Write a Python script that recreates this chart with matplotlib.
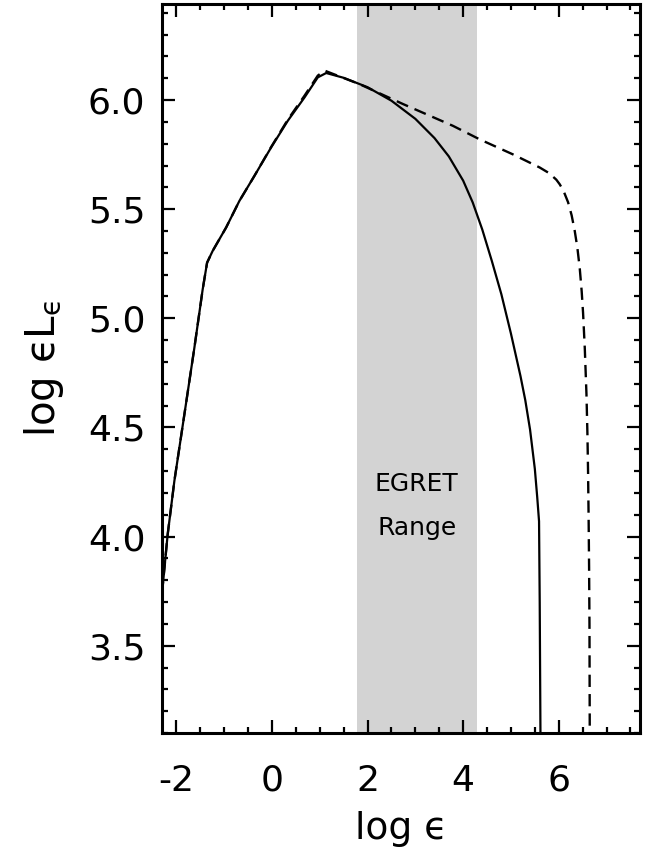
import matplotlib
matplotlib.use('Agg')
import matplotlib.pyplot as plt
from matplotlib.ticker import MultipleLocator

# 曲线数据
solid_x = [-2.35, -2.287, -2.182, -2.042, -1.832, -1.623, -1.449, -1.357, -1.240, -0.959,
           -0.681, -0.366, -0.017, 0.331, 0.681, 0.959, 1.135, 1.5, 2.0, 2.5,
           3.0, 3.4, 3.7, 4.0, 4.2, 4.4, 4.6, 4.8, 5.0, 5.2,
           5.3, 5.4, 5.5, 5.55, 5.588, 5.602, 5.62]
solid_y = [3.56, 3.77, 4.009, 4.254, 4.560, 4.865, 5.133, 5.255, 5.309, 5.416,
           5.538, 5.653, 5.783, 5.905, 6.012, 6.104, 6.124, 6.102, 6.059, 5.997,
           5.914, 5.826, 5.742, 5.631, 5.531, 5.407, 5.263, 5.11, 4.93, 4.735,
           4.625, 4.49, 4.31, 4.18, 4.07, 3.70, 3.0]

dash_x = [-2.35, -2.287, -2.182, -2.042, -1.832, -1.623, -1.449, -1.357, -1.240, -0.959,
          -0.681, -0.366, -0.017, 0.331, 0.681, 0.959, 1.10, 1.832, 2.74, 3.786,
          4.346, 5.043, 5.602, 5.8, 5.95, 6.021, 6.1, 6.195, 6.27, 6.335,
          6.39, 6.44, 6.48, 6.509, 6.545, 6.58, 6.60, 6.614, 6.625, 6.635,
          6.643, 6.65]
dash_y = [3.56, 3.77, 4.009, 4.254, 4.560, 4.865, 5.133, 5.255, 5.309, 5.416,
          5.538, 5.653, 5.785, 5.910, 6.020, 6.112, 6.135, 6.073, 5.982, 5.882,
          5.820, 5.751, 5.691, 5.665, 5.635, 5.614, 5.584, 5.532, 5.472, 5.40,
          5.323, 5.228, 5.124, 5.025, 4.863, 4.653, 4.473, 4.29, 4.09, 3.86,
          3.6, 3.0]

# EGRET 能段
egret_band = [1.77, 4.29]

fig = plt.figure(figsize=(6.46, 8.60), dpi=100)
ax = fig.add_axes([0.2508, 0.1477, 0.7399, 0.8476])

ax.axvspan(egret_band[0], egret_band[1], color='#d3d3d3', lw=0, zorder=0)
ax.plot(solid_x, solid_y, color='black', lw=1.6, solid_joinstyle='round')
ax.plot(dash_x, dash_y, color='black', lw=1.7, ls=(0, (5.2, 3.0)))

mid = (egret_band[0] + egret_band[1]) / 2
ax.text(mid, 4.24, 'EGRET', ha='center', va='center', fontsize=18)
ax.text(mid, 4.04, 'Range', ha='center', va='center', fontsize=18)

ax.set_xlim(-2.3, 7.7)
ax.set_ylim(3.1, 6.44)

ax.xaxis.set_major_locator(MultipleLocator(2))
ax.xaxis.set_minor_locator(MultipleLocator(0.5))
ax.yaxis.set_major_locator(MultipleLocator(0.5))
ax.yaxis.set_minor_locator(MultipleLocator(0.1))
ax.yaxis.set_major_formatter(plt.FormatStrFormatter('%.1f'))
ax.xaxis.set_major_formatter(plt.FormatStrFormatter('%d'))

ax.tick_params(which='both', direction='in', top=True, right=True, width=1.6, labelsize=26)
ax.tick_params(which='major', length=9.5)
ax.tick_params(which='minor', length=4.2)
ax.tick_params(axis='x', pad=22)
ax.tick_params(axis='y', pad=12)
for s in ax.spines.values():
    s.set_linewidth(2.2)

ax.set_xlabel('log ϵ', fontsize=27, labelpad=10)
ax.set_ylabel('log ϵL$_\\mathregular{ϵ}$', fontsize=29, labelpad=16)

fig.savefig('out.png', dpi=100)
